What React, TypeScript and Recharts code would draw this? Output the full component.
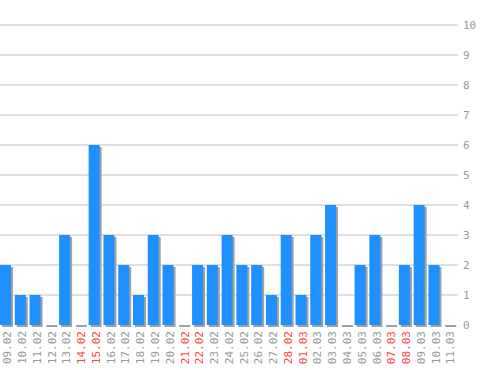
import React from 'react';
import { BarChart, Bar, XAxis, YAxis, CartesianGrid } from 'recharts';

const days = [
  '09.02', '10.02', '11.02', '12.02', '13.02', '14.02', '15.02', '16.02', '17.02', '18.02',
  '19.02', '20.02', '21.02', '22.02', '23.02', '24.02', '25.02', '26.02', '27.02', '28.02',
  '01.03', '02.03', '03.03', '04.03', '05.03', '06.03', '07.03', '08.03', '09.03', '10.03', '11.03',
];
const counts = [2, 1, 1, 0, 3, 0, 6, 3, 2, 1, 3, 2, 0, 2, 2, 3, 2, 2, 1, 3, 1, 3, 4, 0, 2, 3, 0, 2, 4, 2, 0];
const weekendDays = ['14.02', '15.02', '21.02', '22.02', '28.02', '01.03', '07.03', '08.03'];
const yTicks = [0, 1, 2, 3, 4, 5, 6, 7, 8, 9, 10];
const gridValues = [1, 2, 3, 4, 5, 6, 7, 8, 9, 10];

const chartData = days.map((d, i) => ({ day: d, count: counts[i] }));

const FONT = '"DejaVu Sans Mono", monospace';

const ShadowBar = (props: any) => {
  const { x, y, width, height } = props;
  const bx = x - 2;
  if (!height || height <= 0) {
    return <rect x={bx + 2} y={y} width={width} height={2} fill="#a0a0a0" />;
  }
  return (
    <g>
      <rect x={bx + 2} y={y + 2} width={width} height={height} fill="#a0a0a0" />
      <rect x={bx} y={y} width={width} height={height} fill="#1e90ff" />
    </g>
  );
};

const DayTick = (props: any) => {
  const { x, payload } = props;
  const red = weekendDays.includes(payload.value);
  return (
    <text
      x={x}
      y={331}
      dy="0.35em"
      transform={`rotate(-90, ${x}, 331)`}
      textAnchor="end"
      fontFamily={FONT}
      fontSize={11}
      fill={red ? '#ff4444' : '#999999'}
    >
      {payload.value}
    </text>
  );
};

export default function App() {
  return (
    <div style={{ position: 'absolute', left: 0, top: 0, background: '#fff' }}>
      <BarChart
        width={498}
        height={370}
        data={chartData}
        margin={{ top: 25, right: 0, left: 0, bottom: 0 }}
        barSize={11}
      >
        <CartesianGrid
          yAxisId="r"
          vertical={false}
          horizontalValues={gridValues}
          stroke="#c0c0c0"
        />
        <XAxis
          dataKey="day"
          interval={0}
          height={45}
          axisLine={false}
          tickLine={false}
          tick={<DayTick />}
        />
        <YAxis
          yAxisId="r"
          orientation="right"
          width={40}
          domain={[0, 10]}
          ticks={yTicks}
          axisLine={false}
          tickLine={false}
          tickSize={3}
          tickMargin={2}
          tick={{ fontFamily: FONT, fontSize: 11, fill: '#999999', textAnchor: 'start' }}
        />
        <Bar dataKey="count" yAxisId="r" shape={<ShadowBar />} isAnimationActive={false} />
      </BarChart>
    </div>
  );
}
